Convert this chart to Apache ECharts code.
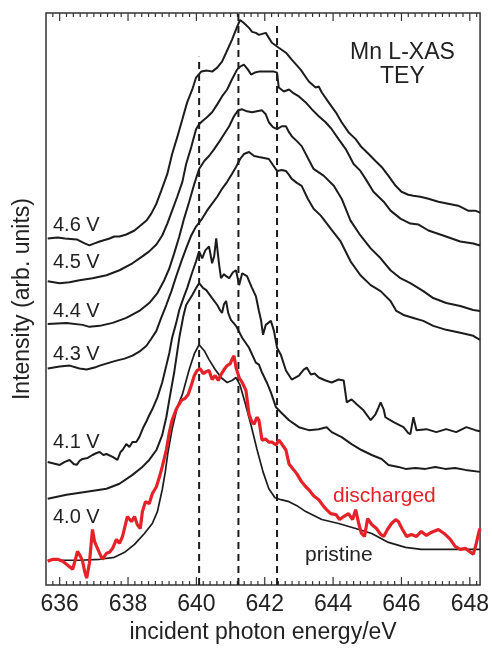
<!DOCTYPE html>
<html>
<head>
<meta charset="utf-8">
<script src="https://cdn.jsdelivr.net/npm/echarts@6/dist/echarts.min.js"></script>
<style>
html,body{margin:0;padding:0;background:#fff;}
#chart{width:492px;height:649px;}
#err{position:absolute;left:60px;top:100px;color:#00f;font:12px sans-serif;width:300px;}
</style>
</head>
<body>
<div id="chart"></div>
<div id="err"></div>
<script>
var errs = [];
window.onerror = function (m) { errs.push(String(m)); document.getElementById('err').textContent = errs.join(' | '); };
var origErr = console.error;
console.error = function () { errs.push(Array.prototype.join.call(arguments, ' ')); document.getElementById('err').textContent = errs.join(' | '); };
var origWarn = console.warn;
console.warn = function () { errs.push('W:' + Array.prototype.join.call(arguments, ' ')); document.getElementById('err').textContent = errs.join(' | '); };

var majorTickLabels = [636, 638, 640, 642, 644, 646, 648];
var minorTickStep = 0.2;
var dashedLines = [[640.08, 5.32], [641.23, 5.76], [642.36, 5.64]];
var curveLabels = ['4.6 V', '4.5 V', '4.4 V', '4.3 V', '4.1 V', '4.0 V'];

var pristine = [[635.65,0.25],[636.58,0.25],[637.17,0.26],[637.60,0.28],[637.90,0.33],[638.19,0.41],[638.48,0.52],[638.71,0.62],[638.86,0.74],[639.00,0.96],[639.09,1.14],[639.17,1.34],[639.29,1.57],[639.44,1.79],[639.59,1.92],[639.79,2.17],[639.94,2.33],[640.08,2.42],[640.23,2.36],[640.37,2.27],[640.55,2.17],[640.72,2.09],[640.90,2.04],[641.04,2.06],[641.16,2.09],[641.28,2.01],[641.42,1.84],[641.60,1.61],[641.77,1.37],[641.95,1.14],[642.12,0.97],[642.30,0.88],[642.47,0.86],[642.71,0.84],[642.94,0.80],[643.20,0.74],[643.67,0.66],[644.16,0.62],[644.66,0.57],[645.13,0.52],[645.62,0.43],[646.12,0.38],[646.58,0.36],[647.08,0.36],[647.66,0.36],[648.30,0.36]];

var discharged = [[635.65,0.24],[635.80,0.26],[635.94,0.26],[636.09,0.24],[636.20,0.21],[636.38,0.16],[636.47,0.27],[636.52,0.34],[636.61,0.29],[636.67,0.24],[636.73,0.14],[636.79,0.07],[636.87,0.22],[636.96,0.56],[637.02,0.44],[637.08,0.39],[637.17,0.32],[637.25,0.26],[637.37,0.32],[637.46,0.33],[637.55,0.37],[637.66,0.46],[637.75,0.42],[637.84,0.49],[637.98,0.69],[638.10,0.64],[638.19,0.69],[638.27,0.61],[638.36,0.57],[638.42,0.74],[638.51,0.84],[638.62,0.82],[638.71,0.92],[638.83,0.99],[638.92,1.09],[639.00,1.19],[639.12,1.36],[639.21,1.54],[639.29,1.66],[639.41,1.77],[639.56,1.86],[639.67,1.88],[639.76,1.92],[639.85,2.01],[639.94,2.11],[640.02,2.16],[640.11,2.18],[640.20,2.13],[640.29,2.15],[640.37,2.16],[640.46,2.07],[640.55,2.11],[640.64,2.06],[640.72,2.12],[640.81,2.17],[640.90,2.21],[640.99,2.23],[641.04,2.27],[641.10,2.31],[641.16,2.19],[641.25,2.09],[641.34,2.04],[641.39,2.06],[641.45,1.96],[641.54,1.72],[641.63,1.64],[641.69,1.62],[641.77,1.69],[641.83,1.66],[641.92,1.46],[642.03,1.47],[642.12,1.44],[642.21,1.44],[642.33,1.41],[642.41,1.46],[642.50,1.42],[642.62,1.36],[642.71,1.22],[642.85,1.16],[642.94,1.12],[643.08,1.04],[643.20,0.99],[643.29,0.96],[643.43,0.90],[643.58,0.86],[643.73,0.79],[643.81,0.76],[643.93,0.72],[644.08,0.71],[644.19,0.66],[644.31,0.69],[644.45,0.72],[644.57,0.66],[644.66,0.76],[644.75,0.62],[644.83,0.52],[644.92,0.49],[645.01,0.67],[645.13,0.61],[645.27,0.57],[645.39,0.51],[645.48,0.49],[645.59,0.56],[645.71,0.62],[645.83,0.66],[645.91,0.64],[646.03,0.56],[646.15,0.49],[646.29,0.51],[646.44,0.49],[646.58,0.54],[646.73,0.50],[646.87,0.53],[647.08,0.56],[647.25,0.52],[647.43,0.46],[647.57,0.39],[647.72,0.36],[647.87,0.37],[647.98,0.34],[648.10,0.31],[648.19,0.42],[648.27,0.54],[648.30,0.57]];

var v40 = [[635.65,0.87],[636.20,0.91],[636.79,0.94],[637.37,0.97],[637.75,1.02],[638.13,1.11],[638.42,1.19],[638.62,1.26],[638.83,1.36],[639.00,1.51],[639.12,1.69],[639.21,1.87],[639.35,2.14],[639.50,2.49],[639.62,2.71],[639.70,2.82],[639.88,2.92],[639.99,2.99],[640.08,3.04],[640.20,2.99],[640.29,2.97],[640.46,2.89],[640.61,2.82],[640.69,2.77],[640.75,2.74],[640.81,2.83],[640.87,2.86],[640.93,2.74],[641.01,2.67],[641.16,2.61],[641.34,2.49],[641.54,2.39],[641.74,2.24],[641.83,2.22],[641.92,2.14],[642.06,2.04],[642.18,1.94],[642.33,1.79],[642.47,1.74],[642.71,1.66],[643.00,1.59],[643.29,1.56],[643.58,1.57],[643.81,1.59],[643.96,1.54],[644.25,1.49],[644.54,1.42],[644.83,1.36],[645.13,1.31],[645.42,1.27],[645.62,1.21],[645.91,1.19],[646.12,1.17],[646.41,1.18],[646.70,1.17],[646.99,1.19],[647.28,1.17],[647.57,1.18],[647.87,1.16],[648.30,1.14]];

var v41 = [[635.65,1.24],[636.00,1.21],[636.15,1.24],[636.29,1.26],[636.41,1.22],[636.50,1.21],[636.58,1.25],[636.67,1.27],[636.82,1.28],[636.96,1.31],[637.08,1.33],[637.17,1.34],[637.28,1.31],[637.37,1.32],[637.55,1.29],[637.69,1.26],[637.78,1.34],[637.84,1.36],[637.95,1.42],[638.04,1.39],[638.13,1.44],[638.24,1.44],[638.33,1.49],[638.45,1.59],[638.54,1.65],[638.62,1.71],[638.71,1.77],[638.86,1.89],[639.00,2.04],[639.12,2.21],[639.21,2.34],[639.29,2.49],[639.41,2.64],[639.50,2.77],[639.62,2.89],[639.73,2.99],[639.85,3.12],[639.94,3.21],[639.99,3.26],[640.08,3.36],[640.17,3.29],[640.26,3.37],[640.37,3.41],[640.46,3.24],[640.52,3.31],[640.58,3.49],[640.66,3.24],[640.72,3.09],[640.81,3.13],[640.87,3.11],[640.96,3.09],[641.07,3.15],[641.16,3.17],[641.25,3.02],[641.34,3.14],[641.48,3.11],[641.63,2.99],[641.74,2.91],[641.83,2.76],[641.89,2.67],[641.95,2.52],[642.03,2.62],[642.18,2.66],[642.27,2.56],[642.36,2.39],[642.47,2.32],[642.62,2.16],[642.79,2.07],[643.00,2.11],[643.14,2.17],[643.23,2.19],[643.35,2.12],[643.46,2.13],[643.58,2.09],[643.78,2.06],[643.96,2.04],[644.16,2.07],[644.31,2.06],[644.40,1.84],[644.54,1.87],[644.69,1.82],[644.89,1.76],[645.10,1.66],[645.24,1.72],[645.33,1.79],[645.39,1.84],[645.48,1.77],[645.53,1.69],[645.77,1.64],[646.06,1.59],[646.20,1.53],[646.26,1.52],[646.35,1.69],[646.44,1.56],[646.73,1.57],[647.02,1.54],[647.31,1.57],[647.60,1.54],[647.90,1.59],[648.16,1.56],[648.30,1.55]];

var v43 = [[635.65,2.18],[636.00,2.20],[636.29,2.21],[636.58,2.18],[636.79,2.17],[637.02,2.19],[637.17,2.21],[637.46,2.24],[637.66,2.26],[637.90,2.28],[638.13,2.31],[638.33,2.35],[638.54,2.41],[638.68,2.48],[638.83,2.56],[638.97,2.69],[639.12,2.82],[639.27,2.96],[639.41,3.11],[639.56,3.26],[639.70,3.39],[639.85,3.52],[639.99,3.61],[640.17,3.69],[640.31,3.77],[640.46,3.84],[640.61,3.91],[640.75,3.99],[640.90,4.06],[641.04,4.14],[641.16,4.21],[641.28,4.29],[641.39,4.34],[641.54,4.36],[641.69,4.32],[641.83,4.31],[641.98,4.30],[642.12,4.29],[642.24,4.23],[642.36,4.17],[642.50,4.18],[642.62,4.17],[642.71,4.13],[642.79,4.09],[642.94,4.05],[643.08,4.02],[643.26,3.89],[643.43,3.79],[643.64,3.72],[643.93,3.59],[644.22,3.46],[644.51,3.26],[644.80,3.12],[645.10,3.02],[645.39,2.96],[645.68,2.86],[645.85,2.76],[646.06,2.72],[646.35,2.69],[646.64,2.66],[646.93,2.61],[647.31,2.57],[647.72,2.54],[648.10,2.51],[648.30,2.47]];

var v44 = [[635.65,2.63],[636.20,2.64],[636.67,2.62],[636.87,2.60],[637.17,2.61],[637.55,2.64],[637.95,2.69],[638.33,2.76],[638.62,2.84],[638.86,2.94],[639.06,3.07],[639.21,3.19],[639.35,3.34],[639.50,3.51],[639.64,3.69],[639.79,3.86],[639.94,4.04],[640.08,4.19],[640.23,4.27],[640.37,4.32],[640.52,4.39],[640.66,4.46],[640.81,4.54],[640.96,4.62],[641.10,4.72],[641.22,4.78],[641.34,4.79],[641.48,4.77],[641.63,4.76],[641.77,4.77],[641.92,4.78],[642.03,4.74],[642.12,4.66],[642.24,4.61],[642.36,4.59],[642.50,4.62],[642.62,4.62],[642.71,4.56],[642.79,4.52],[642.94,4.47],[643.08,4.42],[643.43,4.19],[643.73,4.12],[644.02,4.02],[644.25,3.89],[644.51,3.67],[644.80,3.52],[645.10,3.39],[645.39,3.29],[645.68,3.17],[645.97,3.09],[646.26,3.04],[646.64,2.96],[646.93,2.89],[647.31,2.84],[647.72,2.81],[648.10,2.77],[648.30,2.76]];

var v45 = [[635.65,3.06],[636.00,3.04],[636.29,3.05],[636.58,3.07],[636.96,3.09],[637.37,3.12],[637.75,3.17],[638.13,3.24],[638.42,3.31],[638.62,3.36],[638.83,3.43],[639.00,3.52],[639.15,3.64],[639.29,3.77],[639.44,3.91],[639.59,4.06],[639.70,4.24],[639.85,4.41],[639.99,4.59],[640.08,4.64],[640.17,4.67],[640.31,4.71],[640.46,4.76],[640.61,4.84],[640.75,4.92],[640.90,4.99],[641.04,5.09],[641.19,5.19],[641.28,5.22],[641.39,5.24],[641.51,5.19],[641.60,5.14],[641.71,5.16],[641.83,5.17],[641.98,5.17],[642.12,5.17],[642.27,5.17],[642.36,5.16],[642.41,5.01],[642.56,4.97],[642.71,4.99],[642.85,4.95],[643.00,4.92],[643.20,4.86],[643.38,4.79],[643.58,4.72],[643.78,4.66],[643.96,4.59],[644.16,4.49],[644.37,4.39],[644.60,4.24],[644.80,4.17],[644.95,4.09],[645.18,3.96],[645.48,3.86],[645.68,3.77],[645.97,3.69],[646.26,3.64],[646.50,3.63],[646.79,3.57],[647.22,3.52],[647.72,3.46],[648.10,3.44],[648.30,3.42]];

var v46 = [[635.65,3.49],[635.94,3.50],[636.15,3.49],[636.50,3.48],[636.73,3.44],[636.87,3.42],[637.02,3.44],[637.17,3.46],[637.46,3.49],[637.60,3.51],[637.75,3.51],[637.95,3.53],[638.19,3.57],[638.33,3.61],[638.54,3.67],[638.68,3.74],[638.83,3.84],[638.97,3.97],[639.15,4.14],[639.29,4.34],[639.44,4.51],[639.59,4.69],[639.73,4.86],[639.88,4.99],[639.99,5.11],[640.14,5.17],[640.31,5.18],[640.46,5.17],[640.61,5.21],[640.75,5.27],[640.87,5.36],[641.04,5.49],[641.19,5.62],[641.28,5.69],[641.39,5.66],[641.54,5.61],[641.63,5.57],[641.74,5.56],[641.83,5.54],[642.03,5.56],[642.21,5.46],[642.41,5.41],[642.62,5.36],[642.79,5.29],[643.05,5.19],[643.29,5.07],[643.49,5.01],[643.58,5.02],[643.67,4.96],[643.87,4.86],[644.08,4.76],[644.25,4.66],[644.45,4.56],[644.66,4.49],[644.83,4.41],[645.04,4.34],[645.24,4.27],[645.42,4.21],[645.62,4.12],[645.83,4.02],[646.00,3.96],[646.20,3.93],[646.35,3.92],[646.55,3.91],[646.79,3.89],[647.08,3.86],[647.37,3.84],[647.66,3.82],[647.95,3.77],[648.16,3.77],[648.30,3.75]];

var FONT = '"Liberation Sans", Arial, Helvetica, sans-serif';
var AX = '#333';
var BLACK = '#1c1c1c';
var RED = '#e62229';
var XMIN = 635.6, XMAX = 648.3, YMAX = 5.76;

function isMajor(v) {
  for (var i = 0; i < majorTickLabels.length; i++) { if (Math.abs(v - majorTickLabels[i]) < 1e-6) return true; }
  return false;
}
var frameTicks = [];
for (var k = 1; XMIN + k * minorTickStep < XMAX - 1e-6; k++) {
  frameTicks.push([Math.round((XMIN + k * minorTickStep) * 10) / 10, 0]);
}

var chart = echarts.init(document.getElementById('chart'));

function lineSeries(name, data, color, width) {
  return { name: name, type: 'line', data: data, symbol: 'none', smooth: false,
           lineStyle: { color: color, width: width } };
}

var series = [];
dashedLines.forEach(function (d, i) {
  series.push({ name: 'dash' + i, type: 'line', data: [[d[0], 0], [d[0], d[1]]],
                symbol: 'none', lineStyle: { color: BLACK, width: 2, type: [7, 5] } });
});
series.push(lineSeries('pristine', pristine, BLACK, 1.7));
series.push(lineSeries('discharged', discharged, RED, 3.2));
series.push(lineSeries('4.0 V', v40, BLACK, 2));
series.push(lineSeries('4.1 V', v41, BLACK, 2));
series.push(lineSeries('4.3 V', v43, BLACK, 2));
series.push(lineSeries('4.4 V', v44, BLACK, 2));
series.push(lineSeries('4.5 V', v45, BLACK, 2));
series.push(lineSeries('4.6 V', v46, BLACK, 2));
series.push({
  name: 'frameTicks', type: 'custom', clip: false, silent: true,
  encode: { x: 0, y: 1 },
  data: frameTicks,
  renderItem: function (params, api) {
    var v = api.value(0);
    var len = isMajor(v) ? 8 : 4;
    var b = api.coord([v, 0]);
    var t = api.coord([v, YMAX]);
    var children = [
      { type: 'line', shape: { x1: b[0], y1: b[1], x2: b[0], y2: b[1] - len }, style: { stroke: AX, lineWidth: 1.2 } },
      { type: 'line', shape: { x1: t[0], y1: t[1], x2: t[0], y2: t[1] + len }, style: { stroke: AX, lineWidth: 1.2 } }
    ];
    return { type: 'group', children: children };
  }
});

var labelY = [226, 263, 312, 355, 443, 518];
var graphics = curveLabels.map(function (t, i) {
  return { type: 'text', left: 53, top: labelY[i] - 11, style: { text: t, fill: '#222', font: '20px ' + FONT } };
});
graphics.push({ type: 'text', left: 350, top: 41, style: { text: 'Mn L-XAS', fill: '#222', font: '23px ' + FONT } });
graphics.push({ type: 'text', left: 380, top: 65, style: { text: 'TEY', fill: '#222', font: '23px ' + FONT } });
graphics.push({ type: 'text', left: 333, top: 486, style: { text: 'discharged', fill: RED, font: '21px ' + FONT } });
graphics.push({ type: 'text', left: 305, top: 545, style: { text: 'pristine', fill: '#222', font: '21px ' + FONT } });

try {
  chart.setOption({
    animation: false,
    grid: { left: 46, right: 10, top: 13, height: 576, show: true, borderColor: AX, borderWidth: 1.5, backgroundColor: 'transparent' },
    xAxis: {
      type: 'value', min: XMIN, max: XMAX,
      axisLine: { show: false, onZero: false },
      axisTick: { show: false },
      axisLabel: { show: true, customValues: majorTickLabels, margin: 8, color: '#222', fontSize: 23, fontFamily: FONT },
      splitLine: { show: false },
      name: 'incident photon energy/eV', nameLocation: 'middle', nameGap: 34,
      nameTextStyle: { color: '#222', fontSize: 23, fontFamily: FONT }
    },
    yAxis: {
      type: 'value', min: 0, max: YMAX,
      axisLine: { show: false }, axisTick: { show: false }, axisLabel: { show: false }, splitLine: { show: false },
      name: 'Intensity (arb. units)', nameLocation: 'middle', nameGap: 12,
      nameTextStyle: { color: '#222', fontSize: 23, fontFamily: FONT }
    },
    series: series,
    graphic: graphics
  });
} catch (e) {
  errs.push('EX:' + e.message);
  document.getElementById('err').textContent = errs.join(' | ');
}
</script>
</body>
</html>
